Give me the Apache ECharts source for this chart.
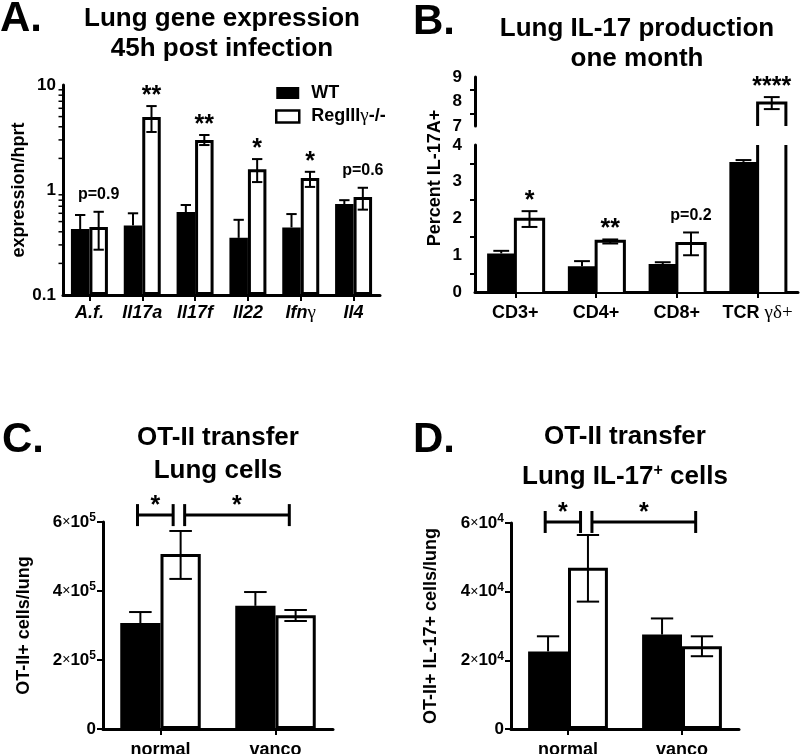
<!DOCTYPE html>
<html><head><meta charset="utf-8">
<script src="https://cdn.jsdelivr.net/npm/echarts@6/dist/echarts.min.js"></script>
<style>html,body{margin:0;padding:0;background:#fff}#c{width:800px;height:754px}</style>
</head><body><div id="c"></div><script>
const FONT = '"Liberation Sans", Arial, Helvetica, sans-serif';
const SERIF = '"Liberation Serif", "DejaVu Serif", serif';

// ---------- Panel A: Lung gene expression (log scale) ----------
const catsA = ['A.f.', 'Il17a', 'Il17f', 'Il22', 'Ifnγ', 'Il4'];
const wtA = [0.425, 0.46, 0.617, 0.35, 0.44, 0.736];
const wtHiA = [0.578, 0.60, 0.72, 0.52, 0.59, 0.80];
const koA = [0.445, 4.96, 3.0, 1.58, 1.30, 0.86];
const koLoA = [0.27, 3.57, 2.68, 1.19, 1.07, 0.65];
const koHiA = [0.62, 6.3, 3.34, 1.97, 1.49, 1.05];
const sigA = ['p=0.9', '**', '**', '*', '*', 'p=0.6'];
const minorTicksA = [0.2, 0.3, 0.4, 0.5, 0.6, 0.7, 0.8, 0.9, 2, 3, 4, 5, 6, 7, 8, 9];

// ---------- Panel B: Lung IL-17 production (broken axis) ----------
const catsB = ['CD3+', 'CD4+', 'CD8+', 'TCR γδ+'];
const wtB = [1.05, 0.70, 0.76, 3.54];
const wtHiB = [1.12, 0.84, 0.81, 3.59];
const koB = [1.98, 1.38, 1.32, 7.94];
const koLoB = [1.77, 1.32, 1.0, 7.69];
const koHiB = [2.2, 1.43, 1.62, 8.18];
const sigB = ['*', '**', 'p=0.2', '****'];

// ---------- Panel C: OT-II transfer, lung cells ----------
const catsC = ['normal', 'vanco'];
const wtC = [3.07e5, 3.57e5];
const wtHiC = [3.39e5, 3.97e5];
const koC = [5.07e5, 3.30e5];
const koLoC = [4.35e5, 3.13e5];
const koHiC = [5.74e5, 3.45e5];
const brFromC = [-0.2, 0.21];
const brToC = [0.11, 1.12];
const brYC = [6.2e5, 6.2e5];
const brSigC = ['*', '*'];

// ---------- Panel D: OT-II transfer, lung IL-17+ cells ----------
const catsD = ['normal', 'vanco'];
const wtD = [2.26e4, 2.75e4];
const wtHiD = [2.70e4, 3.22e4];
const koD = [4.70e4, 2.41e4];
const koLoD = [3.71e4, 2.12e4];
const koHiD = [5.65e4, 2.70e4];
const brFromD = [-0.2, 0.21];
const brToD = [0.11, 1.12];
const brYD = [6.03e4, 6.03e4];
const brSigD = ['*', '*'];

const WT = 'WT', KO = 'RegIIIγ-/-';
const GAP = 0.35; // each bar = 35% of the category band (30% category gap, bars touching)

function greekRich(s, base) {
  return s.split(/([γδ]+\+?)/).filter(t => t).map(t => /[γδ]/.test(t) ? '{g|' + t + '}' : '{' + base + '|' + t + '}').join('');
}
function sciLabel(v) {
  if (v === 0) return '{n|0}';
  const e = Math.floor(Math.log10(v) + 1e-9);
  const m = Math.round(v / Math.pow(10, e));
  return '{n|' + m + '}{x|×}{n|10}{s|' + e + '}';
}
const black = '#000';
const tickLine = { color: black, width: 2 };
const axisLine = { show: true, onZero: false, lineStyle: { color: black, width: 3 } };
const lblBase = { color: black, fontWeight: 'bold', fontFamily: FONT, fontSize: 17 };
const sciRich = {
  n: { fontSize: 17, fontWeight: 'bold', fontFamily: FONT, color: black, lineHeight: 20 },
  x: { fontSize: 14, fontFamily: FONT, color: black, lineHeight: 20 },
  s: { fontSize: 12, fontWeight: 'bold', fontFamily: FONT, color: black, verticalAlign: 'top', lineHeight: 12 }
};
const greekRichStyles = () => ({
  i: { fontStyle: 'italic', fontWeight: 'bold', fontFamily: FONT, color: black, fontSize: 18 },
  b: { fontWeight: 'bold', fontFamily: FONT, color: black, fontSize: 18 },
  g: { fontFamily: SERIF, color: black, fontSize: 19, fontWeight: 'normal' }
});

// ---- custom renderers ----
function errRender(side, withLow) {
  return function (params, api) {
    const ci = api.value(0);
    const bw = api.size([1, 0])[0] * GAP;
    const pLo = api.coord([ci, api.value(1)]);
    const pHi = api.coord([ci, api.value(2)]);
    const cx = pLo[0] + side * bw / 2;
    const h = bw * 0.28;
    const st = { stroke: black, lineWidth: 2 };
    const ch = [
      { type: 'line', shape: { x1: cx, y1: pLo[1], x2: cx, y2: pHi[1] }, style: st },
      { type: 'line', shape: { x1: cx - h, y1: pHi[1], x2: cx + h, y2: pHi[1] }, style: st }
    ];
    if (withLow) ch.push({ type: 'line', shape: { x1: cx - h, y1: pLo[1], x2: cx + h, y2: pLo[1] }, style: st });
    return { type: 'group', children: ch };
  };
}
function sigRender(labels) {
  return function (params, api) {
    const ci = api.value(0);
    const bw = api.size([1, 0])[0] * GAP;
    const p = api.coord([ci, api.value(1)]);
    const cs = params.coordSys;
    if (p[1] < cs.y - 1 || p[1] > cs.y + cs.height + 1) return;
    const t = labels[params.dataIndex];
    const isP = t.charAt(0) === 'p';
    return {
      type: 'text', x: p[0] + bw / 2, y: p[1] - (isP ? 17 : 10),
      style: { text: t, fill: black, fontFamily: FONT, fontWeight: 'bold', fontSize: isP ? 16 : 25,
        align: 'center', verticalAlign: 'middle', textAlign: 'center', textVerticalAlign: 'middle' }
    };
  };
}
// open outline for the white bars of the broken-axis panel
function outlineRender(params, api) {
  const ci = api.value(0);
  const bw = api.size([1, 0])[0] * GAP;
  const p = api.coord([ci, api.value(1)]);
  const cs = params.coordSys;
  const yBot = cs.y + cs.height;
  if (p[1] >= yBot) return;
  const xl = p[0], xr = p[0] + bw;
  const st = { stroke: black, lineWidth: 3, fill: null, lineJoin: 'miter' };
  if (p[1] >= cs.y) {
    return { type: 'polyline', shape: { points: [[xl, yBot], [xl, p[1]], [xr, p[1]], [xr, yBot]] }, style: st };
  }
  return { type: 'group', children: [
    { type: 'line', shape: { x1: xl, y1: yBot, x2: xl, y2: cs.y }, style: st },
    { type: 'line', shape: { x1: xr, y1: yBot, x2: xr, y2: cs.y }, style: st }
  ] };
}
function bracketRender(labels) {
  return function (params, api) {
    const p1 = api.coord([api.value(0), api.value(2)]);
    const p2 = api.coord([api.value(1), api.value(2)]);
    const st = { stroke: black, lineWidth: 3 };
    return { type: 'group', children: [
      { type: 'line', shape: { x1: p1[0], y1: p1[1], x2: p2[0], y2: p2[1] }, style: st },
      { type: 'line', shape: { x1: p1[0], y1: p1[1] - 11, x2: p1[0], y2: p1[1] + 11 }, style: st },
      { type: 'line', shape: { x1: p2[0], y1: p2[1] - 11, x2: p2[0], y2: p2[1] + 11 }, style: st },
      { type: 'text', x: (p1[0] + p2[0]) / 2, y: p1[1] - 9,
        style: { text: labels[params.dataIndex], fill: black, fontFamily: FONT, fontWeight: 'bold', fontSize: 25,
          align: 'center', verticalAlign: 'middle', textAlign: 'center', textVerticalAlign: 'middle' } }
    ] };
  };
}
function minorTickRender(params, api) {
  const y = api.coord([0, api.value(1)])[1];
  const x = params.coordSys.x;
  return { type: 'line', shape: { x1: x - 4.5, y1: y, x2: x, y2: y }, style: { stroke: black, lineWidth: 1.5 } };
}

const rows = (n, f) => Array.from({ length: n }, (_, i) => f(i));

const grids = [
  { left: 63, top: 85, width: 317, height: 210 },   // A
  { left: 475, top: 145, width: 323, height: 147 }, // B low
  { left: 475, top: 77, width: 323, height: 49 },   // B high
  { left: 103, top: 522, width: 230, height: 207 }, // C
  { left: 511, top: 523, width: 228, height: 206 }  // D
].map(g => Object.assign({ containLabel: false, outerBoundsMode: 'none' }, g));

const catX = (gi, data, opts) => Object.assign({
  type: 'category', gridIndex: gi, data: data, axisLine: axisLine,
  axisTick: { show: true, alignWithLabel: true, length: 6, lineStyle: tickLine },
  splitLine: { show: false }
}, opts);

const xAxes = [
  catX(0, catsA, { axisLabel: { interval: 0, margin: 9, formatter: v => greekRich(v, 'i'), rich: greekRichStyles() } }),
  catX(1, catsB, { axisLabel: { interval: 0, margin: 12, formatter: v => greekRich(v, 'b'), rich: greekRichStyles() } }),
  catX(2, catsB, { show: false }),
  catX(3, catsC, { axisLabel: Object.assign({ interval: 0, margin: 12 }, lblBase, { fontSize: 18 }) }),
  catX(4, catsD, { axisLabel: Object.assign({ interval: 0, margin: 12 }, lblBase, { fontSize: 18 }) }),
  { type: 'value', gridIndex: 3, min: -0.5, max: 1.5, show: false },
  { type: 'value', gridIndex: 4, min: -0.5, max: 1.5, show: false }
];

const nameStyle = { fontSize: 18, fontWeight: 'bold', color: black, fontFamily: FONT };
const yAxes = [
  { type: 'log', logBase: 10, gridIndex: 0, min: 0.1, max: 10, startValue: 0.1, axisLine: axisLine,
    axisTick: { length: 6, lineStyle: tickLine }, splitLine: { show: false },
    axisLabel: Object.assign({ margin: 7 }, lblBase),
    name: 'expression/hprt', nameLocation: 'middle', nameGap: 30, nameTextStyle: nameStyle },
  { type: 'value', gridIndex: 1, min: 0, max: 4, interval: 1, axisLine: axisLine,
    axisTick: { length: 9, lineStyle: tickLine }, minorTick: { show: true, splitNumber: 2, length: 5, lineStyle: tickLine },
    splitLine: { show: false }, minorSplitLine: { show: false }, axisLabel: Object.assign({ margin: 13 }, lblBase) },
  { type: 'value', gridIndex: 2, min: 7, max: 9, interval: 1, axisLine: axisLine,
    axisTick: { length: 9, lineStyle: tickLine }, minorTick: { show: true, splitNumber: 2, length: 5, lineStyle: tickLine },
    splitLine: { show: false }, minorSplitLine: { show: false }, axisLabel: Object.assign({ margin: 13 }, lblBase) },
  { type: 'value', gridIndex: 3, min: 0, max: 6e5, interval: 2e5, axisLine: axisLine,
    axisTick: { length: 6, lineStyle: tickLine }, splitLine: { show: false },
    axisLabel: { margin: 7, formatter: sciLabel, rich: sciRich },
    name: 'OT-II+ cells/lung', nameLocation: 'middle', nameGap: 70, nameTextStyle: nameStyle },
  { type: 'value', gridIndex: 4, min: 0, max: 6e4, interval: 2e4, axisLine: axisLine,
    axisTick: { length: 6, lineStyle: tickLine }, splitLine: { show: false },
    axisLabel: { margin: 7, formatter: sciLabel, rich: sciRich },
    name: 'OT-II+ IL-17+ cells/lung', nameLocation: 'middle', nameGap: 71, nameTextStyle: nameStyle }
];

const wtStyle = { color: black, borderColor: black, borderWidth: 2 };
const koStyle = { color: '#fff', borderColor: black, borderWidth: 3 };
const bar = (name, xi, yi, data, style) => ({ type: 'bar', name, xAxisIndex: xi, yAxisIndex: yi, data,
  barGap: '0%', barCategoryGap: '30%', itemStyle: style, clip: true, z: 2 });
const custom = (name, xi, yi, data, render, clip) => ({ type: 'custom', name, xAxisIndex: xi, yAxisIndex: yi,
  data, renderItem: render, clip: !!clip, z: 4, silent: true });

const series = [];
// A
series.push(bar(WT, 0, 0, wtA, wtStyle), bar(KO, 0, 0, koA, koStyle));
series.push(custom(WT, 0, 0, rows(6, i => [i, wtA[i], wtHiA[i]]), errRender(-1, false)));
series.push(custom(KO, 0, 0, rows(6, i => [i, koLoA[i], koHiA[i]]), errRender(1, true)));
series.push(custom(KO, 0, 0, rows(6, i => [i, koHiA[i]]), sigRender(sigA)));
series.push(custom('minor', 0, 0, minorTicksA.map(v => [0, v]), minorTickRender));
// B (two grids for the broken axis)
[[1, 1], [2, 2]].forEach(([xi, yi]) => {
  series.push(bar(WT, xi, yi, wtB, wtStyle), bar(KO, xi, yi, koB, { color: '#fff', borderWidth: 0 }));
  series.push(custom(KO, xi, yi, rows(4, i => [i, koB[i]]), outlineRender, true));
  series.push(custom(WT, xi, yi, rows(4, i => [i, wtB[i], wtHiB[i]]), errRender(-1, false), true));
  series.push(custom(KO, xi, yi, rows(4, i => [i, koLoB[i], koHiB[i]]), errRender(1, true), true));
  series.push(custom(KO, xi, yi, rows(4, i => [i, koHiB[i]]), sigRender(sigB)));
});
// C
series.push(bar(WT, 3, 3, wtC, wtStyle), bar(KO, 3, 3, koC, koStyle));
series.push(custom(WT, 3, 3, rows(2, i => [i, wtC[i], wtHiC[i]]), errRender(-1, false)));
series.push(custom(KO, 3, 3, rows(2, i => [i, koLoC[i], koHiC[i]]), errRender(1, true)));
series.push(custom('sig', 5, 3, rows(2, i => [brFromC[i], brToC[i], brYC[i]]), bracketRender(brSigC)));
// D
series.push(bar(WT, 4, 4, wtD, wtStyle), bar(KO, 4, 4, koD, koStyle));
series.push(custom(WT, 4, 4, rows(2, i => [i, wtD[i], wtHiD[i]]), errRender(-1, false)));
series.push(custom(KO, 4, 4, rows(2, i => [i, koLoD[i], koHiD[i]]), errRender(1, true)));
series.push(custom('sig', 6, 4, rows(2, i => [brFromD[i], brToD[i], brYD[i]]), bracketRender(brSigD)));

const txt = (t, x, y, size, align, extra) => ({ type: 'text', x, y, silent: true, style: Object.assign({
  text: t, fill: black, fontFamily: FONT, fontWeight: 'bold', fontSize: size,
  align: align || 'center', verticalAlign: 'middle', textAlign: align || 'center', textVerticalAlign: 'middle' }, extra || {}) });

const graphics = [
  txt('A.', 0, 19, 42, 'left'),
  txt('Lung gene expression', 222, 19, 26),
  txt('45h post infection', 222, 49, 26),
  txt('B.', 413, 22, 42, 'left'),
  txt('Lung IL-17 production', 637, 29, 26),
  txt('one month', 637, 59, 26),
  Object.assign(txt('Percent IL-17A+', 435, 178, 18), { rotation: Math.PI / 2 }),
  txt('C.', 2, 440, 42, 'left'),
  txt('OT-II transfer', 218, 438, 26),
  txt('Lung cells', 218, 471, 26),
  txt('D.', 413, 440, 42, 'left'),
  txt('OT-II transfer', 625, 437, 26),
  txt('{a|Lung IL-17}{s|+}{a| cells}', 625, 477, 26, 'center', { rich: {
    a: { fontFamily: FONT, fontWeight: 'bold', fontSize: 26, fill: black, lineHeight: 28 },
    s: { fontFamily: FONT, fontWeight: 'bold', fontSize: 16, fill: black, verticalAlign: 'top', lineHeight: 14 } } })
];

const option = {
  animation: false,
  backgroundColor: '#fff',
  grid: grids,
  xAxis: xAxes,
  yAxis: yAxes,
  legend: {
    left: 275, top: 84, orient: 'vertical', padding: 0, itemGap: 5, itemWidth: 23, itemHeight: 12,
    icon: 'rect', selectedMode: false,
    data: [
      { name: WT, itemStyle: { color: black, borderColor: black, borderWidth: 0 } },
      { name: KO, itemStyle: { color: '#fff', borderColor: black, borderWidth: 2.5 } }
    ],
    formatter: n => greekRich(n, 'b'),
    textStyle: { color: black, fontSize: 18, fontWeight: 'bold', fontFamily: FONT, padding: [0, 0, 0, 7],
      rich: greekRichStyles() }
  },
  graphic: graphics,
  series: series
};
const chart = echarts.init(document.getElementById('c'));
chart.setOption(option);
</script></body></html>
